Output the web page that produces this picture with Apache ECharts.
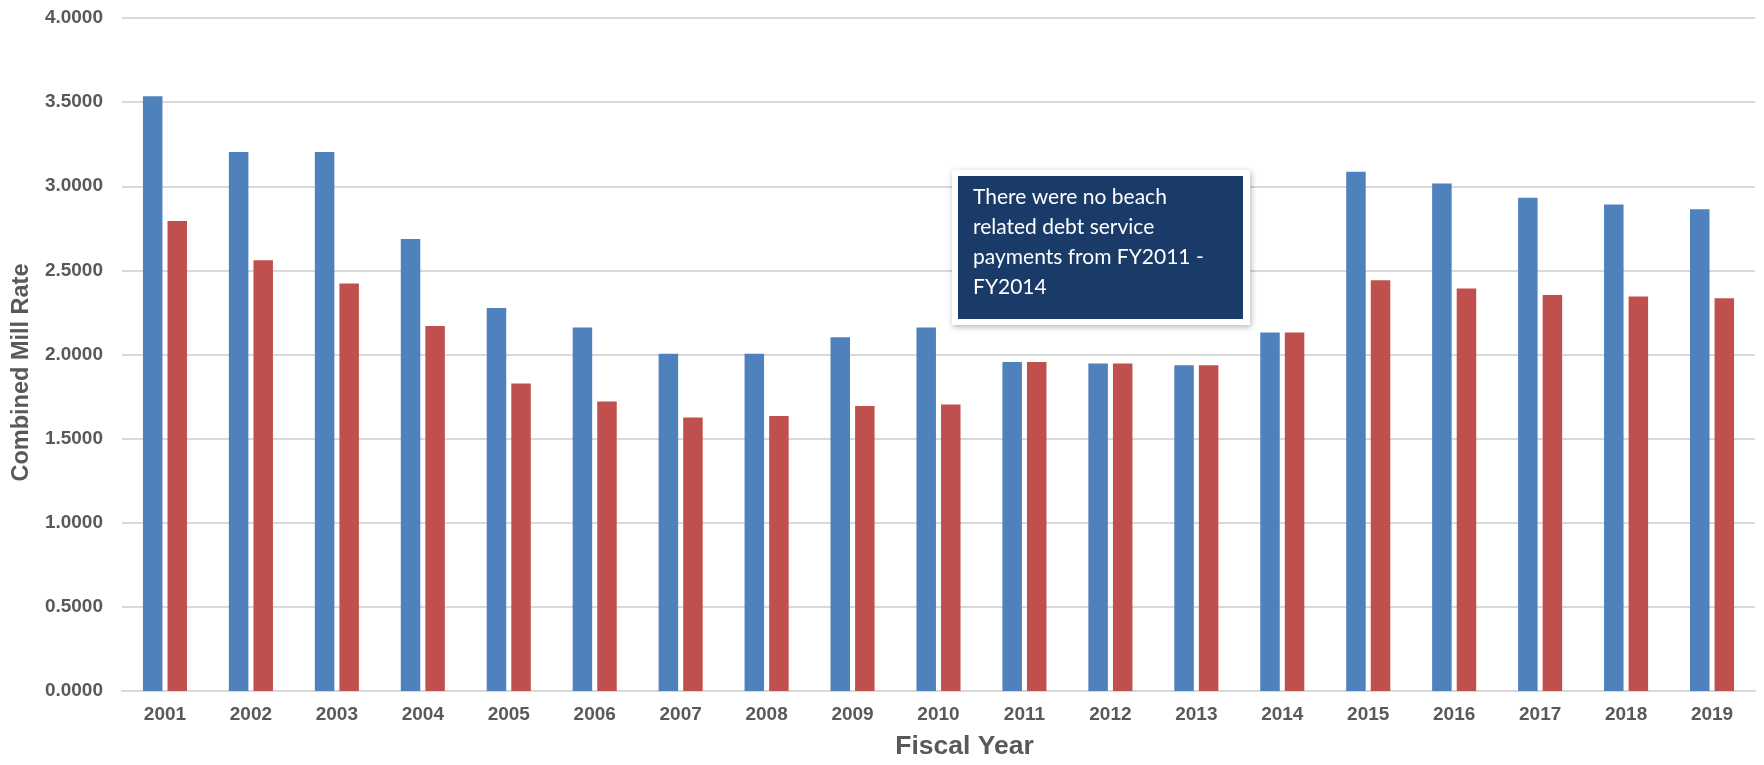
<!DOCTYPE html>
<html>
<head>
<meta charset="utf-8">
<script src="https://cdn.jsdelivr.net/npm/echarts@6/dist/echarts.min.js"></script>
<style>
html,body{margin:0;padding:0;background:#fff;}
#chart{width:1764px;height:765px;}
</style>
</head>
<body>
<div id="chart"></div>
<script>
const years = ['2001','2002','2003','2004','2005','2006','2007','2008','2009','2010','2011','2012','2013','2014','2015','2016','2017','2018','2019'];
const withBeach = [3.535,3.204,3.204,2.687,2.277,2.161,2.005,2.005,2.102,2.161,1.956,1.946,1.936,2.131,3.086,3.017,2.931,2.891,2.864];
const withoutBeach = [2.793,2.560,2.422,2.170,1.827,1.721,1.625,1.635,1.694,1.703,1.956,1.946,1.936,2.131,2.442,2.393,2.353,2.344,2.334];
const yTicks = { min: 0, max: 4, interval: 0.5 };
const noteLines = ['There were no beach', 'related debt service', 'payments from FY2011 -', 'FY2014'];

const chart = echarts.init(document.getElementById('chart'), null, {renderer:'canvas'});
const axisFont = {fontFamily:'Arial, "Liberation Sans", sans-serif', fontWeight:'bold', color:'#595959'};
chart.setOption({
  animation:false,
  grid:{left:122, right:9, top:18, bottom:70, containLabel:false},
  xAxis:{
    type:'category', data:years,
    name:'Fiscal Year', nameLocation:'middle', nameGap:42,
    nameTextStyle:Object.assign({}, axisFont, {fontSize:26.5, padding:[0,0,0,52]}),
    axisLine:{show:true, lineStyle:{color:'#d9d9d9', width:2}},
    axisTick:{show:false},
    axisLabel:Object.assign({}, axisFont, {fontSize:19, margin:14})
  },
  yAxis:{
    type:'value', min:yTicks.min, max:yTicks.max, interval:yTicks.interval,
    name:'Combined Mill Rate', nameLocation:'middle', nameGap:82, nameRotate:90,
    nameTextStyle:Object.assign({}, axisFont, {fontSize:23.5, padding:[0,36,0,0]}),
    axisLine:{show:false}, axisTick:{show:false},
    splitLine:{lineStyle:{color:'#d9d9d9', width:2}},
    axisLabel:Object.assign({}, axisFont, {fontSize:19, margin:19, formatter:v=>v.toFixed(4)})
  },
  series:[
    {name:'With Beach Debt Service', type:'bar', data:withBeach, barWidth:19.5, barGap:'26%', itemStyle:{color:'#4f81bd'}},
    {name:'Without Beach Debt Service', type:'bar', data:withoutBeach, barWidth:19.5, itemStyle:{color:'#c0504d'}}
  ],
  graphic:[
    {type:'rect', left:952, top:170, shape:{width:298, height:155},
     style:{fill:'#ffffff', shadowBlur:6, shadowColor:'rgba(0,0,0,0.3)', shadowOffsetX:1, shadowOffsetY:2}, z:100},
    {type:'rect', left:958, top:176, shape:{width:285, height:143}, style:{fill:'#1a3a68'}, z:101},
    {type:'text', left:973, top:182, z:102,
     style:{text:noteLines.join('\n'), fill:'#ffffff', font:'21px Lato, "Open Sans", sans-serif', lineHeight:30}}
  ]
});
</script>
</body>
</html>
